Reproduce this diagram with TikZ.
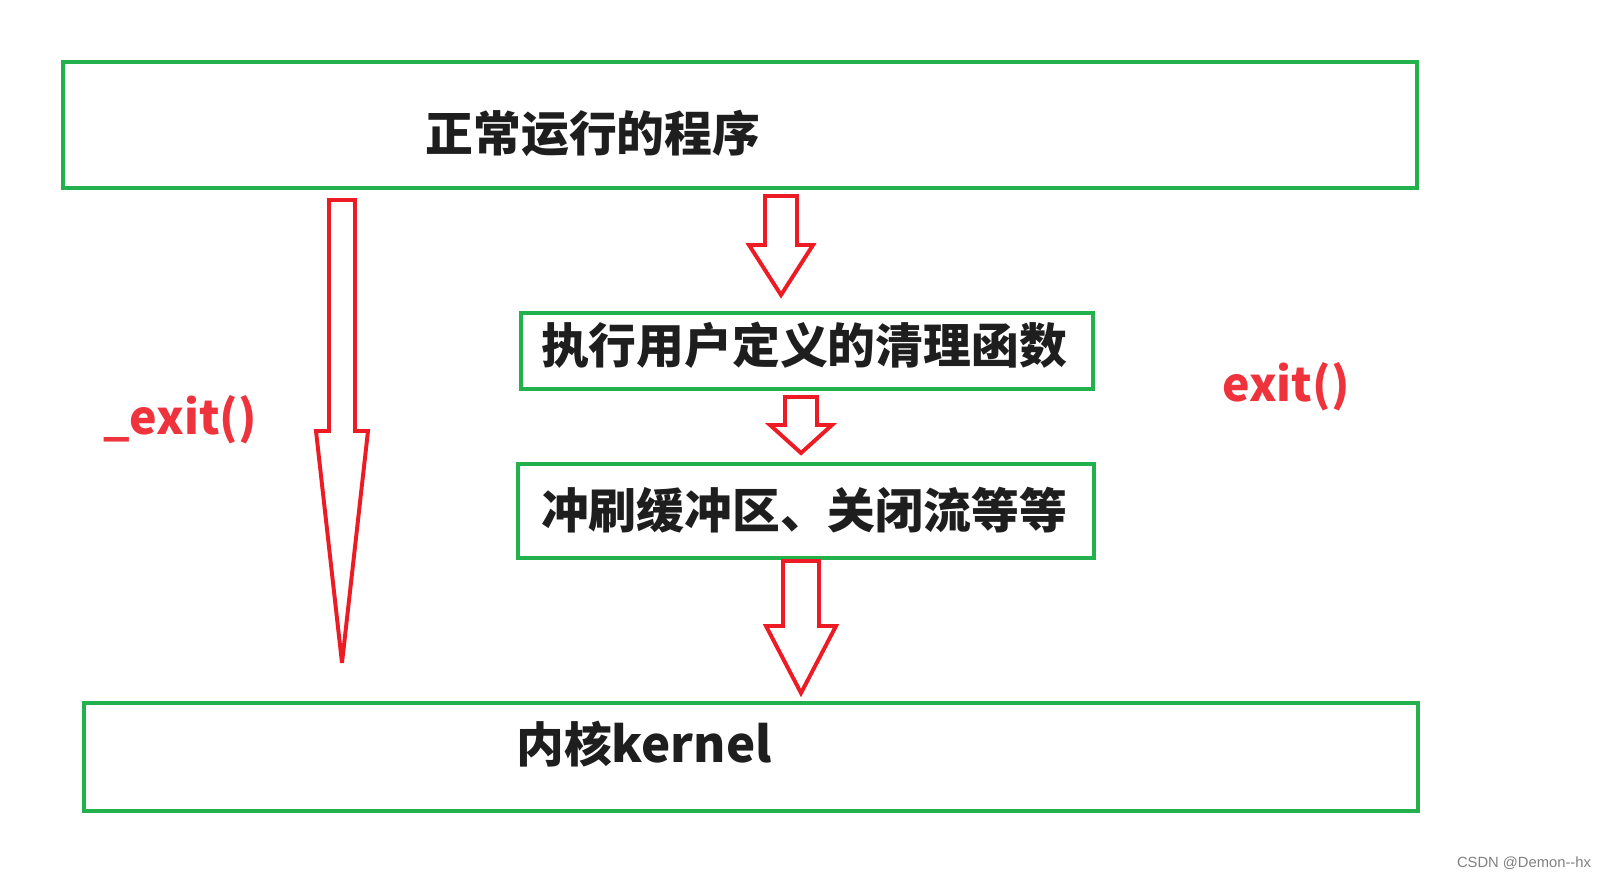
\documentclass[tikz,border=0pt]{standalone}
\usepackage{fontspec}
\setmainfont{Noto Sans CJK SC}
\setsansfont{Liberation Sans}
\usetikzlibrary{positioning,calc}

\definecolor{boxgreen}{RGB}{34,177,76}
\definecolor{arrowred}{RGB}{237,28,36}
\definecolor{labelred}{RGB}{238,51,60}
\definecolor{textblack}{RGB}{30,30,30}

% hollow block arrow: from, to, shaft half width, head half width, head length
\newcommand{\hollowarrow}[5]{%
  \draw[arrowline] ($(#1)+(-#3,0)$) -- ($(#1)+(#3,0)$) -- ($(#2)+(#3,-#5)$)
    -- ($(#2)+(#4,-#5)$) -- (#2) -- ($(#2)+(-#4,-#5)$) -- ($(#2)+(-#3,-#5)$) -- cycle;}

\begin{document}
\begin{tikzpicture}[x=0.025cm,y=-0.025cm]
\tikzstyle{box}=[draw=boxgreen,line width=3.2pt,inner sep=0pt]
\tikzstyle{cntext}=[font=\bfseries\fontsize{34}{40}\selectfont,text=textblack,inner sep=0pt]
\tikzstyle{redlabel}=[font=\bfseries\fontsize{33}{40}\selectfont,text=labelred,inner sep=0pt]
\tikzstyle{arrowline}=[draw=arrowred,fill=white,line width=2.8pt,miter limit=3]
\useasboundingbox (0,0) rectangle (1602,879);

% boxes
\node[box,minimum width=33.85cm,minimum height=3.15cm] (run) at (740,125) {};
\node[cntext] (runtxt) at (593,133) {正常运行的程序};
\node[box,minimum width=14.3cm,minimum height=1.9cm] (clean) at (807,351) {};
\node[cntext] (cleantxt) at (804,345) {执行用户定义的清理函数};
\node[box,minimum width=14.4cm,minimum height=2.35cm] (flush) at (806,511) {};
\node[cntext] (flushtxt) at (804,510) {冲刷缓冲区、关闭流等等};
\node[box,minimum width=33.35cm,minimum height=2.7cm] (kernel) at (751,757) {};
\node[cntext] (kerneltxt) at (644,744) {内核{\fontsize{35}{40}\selectfont kernel}};

% arrows
\coordinate (l1) at (342,200);  \coordinate (l2) at (342,663);
\coordinate (m1) at (781,196);  \coordinate (m2) at (781,295);
\coordinate (c1) at (801,397);  \coordinate (c2) at (801,453);
\coordinate (f1) at (801,561);  \coordinate (f2) at (801,693);
\hollowarrow{l1}{l2}{13}{26}{232}
\hollowarrow{m1}{m2}{16}{32}{50}
\hollowarrow{c1}{c2}{16}{31}{28}
\hollowarrow{f1}{f2}{18}{35}{67}

\node[redlabel] (fast) at (180,420) {\_exit()};
\node[redlabel] (normal) at (1286,387) {exit()};
\node[font=\sffamily\fontsize{10.5}{13}\selectfont,text=gray,inner sep=0pt] (mark) at (1524,863) {CSDN @Demon-{}-hx};
\end{tikzpicture}
\end{document}
